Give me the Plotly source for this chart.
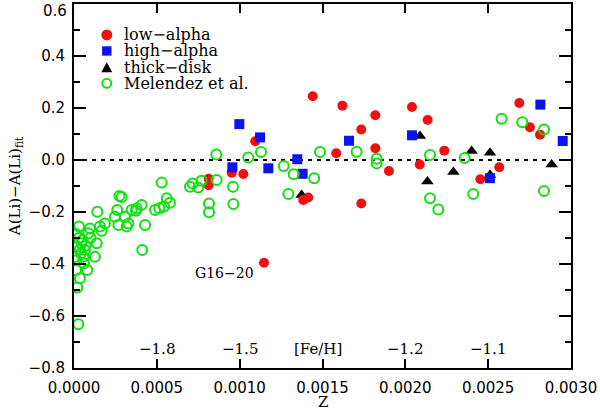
import plotly.graph_objects as go

# low-alpha stars (red filled circles)
red_z = [0.00162, 0.001819, 0.001734, 0.001819, 0.001583, 0.001901, 0.001734,
         0.00204, 0.002135, 0.002087, 0.002235, 0.002453, 0.002567, 0.002688,
         0.002752, 0.002813, 0.001441, 0.001094, 0.000813, 0.000813, 0.000952,
         0.001022, 0.001384, 0.001414, 0.001147]
red_v = [0.209, 0.172, 0.117, 0.045, 0.026, -0.042, -0.167,
         0.204, 0.154, -0.017, 0.036, -0.074, -0.028, 0.219,
         0.126, 0.097, 0.245, 0.072, -0.072, -0.097, -0.049,
         -0.054, -0.154, -0.144, -0.395]

# high-alpha stars (blue squares)
blue_z = [0.00166, 0.00204, 0.002511, 0.002815, 0.00295, 0.000998, 0.001123,
          0.000956, 0.001173, 0.001348, 0.00138]
blue_v = [0.074, 0.095, -0.07, 0.213, 0.073, 0.138, 0.087,
          -0.028, -0.032, 0.003, -0.053]

# thick-disk stars (black triangles)
black_z = [0.002088, 0.002133, 0.00229, 0.0024, 0.002511, 0.002511, 0.002883, 0.001374]
black_v = [0.092, -0.083, -0.046, 0.035, 0.028, -0.058, -0.017, -0.135]

# Melendez et al. (green open circles)
green_z = [0.0, 0.000012, 0.000036, 0.00002, 0.000026, 0.00008, 0.000126,
           0.000137, 0.000086, 0.000097, 0.00003, 0.000012, 0.000052, 0.00002,
           0.000066, 0.000042, 0.000016, 0.00006, 0.000141, 0.000157, 0.000167,
           0.000187, 0.000247, 0.000268, 0.000318, 0.000328, 0.000308, 0.000348,
           0.000378, 0.000408, 0.000429, 0.000412, 0.000489, 0.000515, 0.000543,
           0.000579, 0.000815, 0.000815, 0.000962, 0.000274, 0.000288, 0.000261,
           0.000374, 0.000529, 0.00056, 0.0007, 0.000716, 0.00075, 0.00077,
           0.000861, 0.000859, 0.00096, 0.001052, 0.001129, 0.001266, 0.001326,
           0.001294, 0.00145, 0.001485, 0.001706, 0.001827, 0.001827, 0.002149,
           0.002149, 0.002199, 0.002358, 0.00241, 0.002581, 0.002706, 0.002837,
           0.002837, 0.00003, 0.000045, 0.00007, 0.0001, 0.000035, 0.000057]
green_v = [-0.374, -0.423, -0.455, -0.49, -0.632, -0.423, -0.372,
           -0.32, -0.282, -0.263, -0.256, -0.285, -0.308, -0.333,
           -0.346, -0.359, -0.385, -0.397, -0.199, -0.256, -0.272,
           -0.244, -0.218, -0.25, -0.256, -0.244, -0.218, -0.192,
           -0.186, -0.173, -0.25, -0.346, -0.192, -0.186, -0.179,
           -0.164, -0.167, -0.201, -0.169, -0.138, -0.142, -0.192,
           -0.195, -0.087, -0.147, -0.103, -0.09, -0.106, -0.08,
           -0.077, 0.021, -0.103, 0.01, 0.031, -0.023, -0.055,
           -0.131, -0.07, 0.031, 0.032, 0.005, -0.013, 0.019,
           -0.147, -0.19, 0.008, -0.131, 0.159, 0.145, 0.117,
           -0.119, -0.3, -0.32, -0.33, -0.3, -0.345, -0.372]

# zero line of the fit
fit_z = [0.0, 0.00285]
fit_v = [0.0, 0.0]

# [Fe/H] scale written inside the bottom of the frame
feh_z = [0.0005, 0.0010, 0.00147, 0.0020, 0.0025]
feh_text = ["\u22121.8", "\u22121.5", "[Fe/H]", "\u22121.2", "\u22121.1"]
feh_y = -0.727

x_ticks = [0, 0.0005, 0.001, 0.0015, 0.002, 0.0025, 0.003]
y_ticks = [-0.8, -0.6, -0.4, -0.2, 0.0, 0.2, 0.4, 0.6]
# the top label is written separately, nudged down inside the page like the original
y_labels = ["\u22120.8", "\u22120.6", "\u22120.4", "\u22120.2", "0.0", "0.2", "0.4", ""]
y_top_label = "0.6"

legend_names = ["low\u2212alpha", "high\u2212alpha", "thick\u2212disk", "Melendez et al."]

RED = "#f01010"
BLUE = "#0a14f0"
GREEN = "#10e010"
serif = "DejaVu Serif"
sans = "DejaVu Sans"

fig = go.Figure()

fig.add_trace(go.Scatter(x=fit_z, y=fit_v, mode="lines",
                         line=dict(color="black", width=2, dash="4px,5px")))
# triangles first so the circles sit on top where they overlap
fig.add_trace(go.Scatter(x=black_z, y=black_v, mode="markers", name=legend_names[2],
                         marker=dict(symbol="triangle-up", size=11, color="black")))
fig.add_trace(go.Scatter(x=red_z, y=red_v, mode="markers", name=legend_names[0],
                         marker=dict(symbol="circle", size=10, color=RED)))
fig.add_trace(go.Scatter(x=blue_z, y=blue_v, mode="markers", name=legend_names[1],
                         marker=dict(symbol="square", size=10, color=BLUE)))
fig.add_trace(go.Scatter(x=green_z, y=green_v, mode="markers", name=legend_names[3],
                         marker=dict(symbol="circle-open", size=10, color=GREEN,
                                     line=dict(width=2, color=GREEN))))

# hand drawn legend (IDL style, tight rows)
key_x = 0.066
text_x = 0.096
rows_y = [0.915, 0.871, 0.825, 0.782]
common = dict(xref="paper", yref="paper", xsizemode="pixel", ysizemode="pixel",
              xanchor=key_x)
fig.add_shape(type="circle", yanchor=rows_y[0], x0=-5.5, x1=5.5, y0=-5.5, y1=5.5,
              fillcolor=RED, line=dict(width=0), **common)
fig.add_shape(type="rect", yanchor=rows_y[1], x0=-4.7, x1=4.7, y0=-4.7, y1=4.7,
              fillcolor=BLUE, line=dict(width=0), **common)
fig.add_shape(type="path", yanchor=rows_y[2], path="M -5.5 -4.5 L 5.5 -4.5 L 0 5.5 Z",
              fillcolor="black", line=dict(width=0), **common)
fig.add_shape(type="circle", yanchor=rows_y[3], x0=-4.5, x1=4.5, y0=-4.5, y1=4.5,
              fillcolor="rgba(0,0,0,0)", line=dict(width=2, color=GREEN), **common)
for name, ry in zip(legend_names, rows_y):
    fig.add_annotation(x=text_x, y=ry, xref="paper", yref="paper", text=name,
                       showarrow=False, xanchor="left", yanchor="middle",
                       font=dict(family=serif, size=16, color="black"))

for z, t in zip(feh_z, feh_text):
    fig.add_annotation(x=z, y=feh_y, text=t, showarrow=False,
                       font=dict(family=serif, size=15, color="black"))

fig.add_annotation(x=0.00091, y=-0.433, text="G16\u221220", showarrow=False,
                   font=dict(family=serif, size=14, color="black"))

fig.add_annotation(x=0, xref="paper", y=0.6, text=y_top_label, showarrow=False,
                   xanchor="right", yanchor="middle", xshift=-5, yshift=-7,
                   font=dict(family=sans, size=15, color="black"))

# x-axis title placed at the very bottom of the page
fig.add_annotation(x=0.5, xref="paper", y=-0.1236, yref="paper", text="Z",
                   showarrow=False, xanchor="center", yanchor="bottom",
                   font=dict(family=serif, size=15, color="black"))

fig.update_layout(
    width=600, height=413,
    margin=dict(l=74, r=29, t=4, b=45),
    paper_bgcolor="white", plot_bgcolor="white",
    showlegend=False,
)

fig.update_xaxes(
    range=[0, 0.003], tickvals=x_ticks, tickformat=".4f", automargin=False,
    ticks="inside", ticklen=9, tickwidth=1.5, tickcolor="black",
    showline=True, linewidth=2, linecolor="black", mirror="ticks",
    showgrid=False, zeroline=False, ticklabelstandoff=5, ticklabeloverflow="allow",
    tickfont=dict(family=sans, size=15, color="black"),
)
fig.update_yaxes(
    range=[-0.8, 0.6], tickvals=y_ticks, ticktext=y_labels, automargin=False,
    ticks="inside", ticklen=12, tickwidth=1.5, tickcolor="black",
    minor=dict(ticks="inside", ticklen=6, dtick=0.1, tickcolor="black", tickwidth=1.5),
    showline=True, linewidth=2, linecolor="black", mirror="ticks",
    showgrid=False, zeroline=False, ticklabelstandoff=4, ticklabeloverflow="allow",
    tickfont=dict(family=sans, size=15, color="black"),
    title=dict(text="A(Li)\u2212A(Li)<sub>fit</sub>",
               font=dict(family=serif, size=15, color="black"), standoff=4),
)

# drop the default page margin so the 600x413 figure fills the window exactly
fig.write_html("out.html", config={"displayModeBar": False},
               post_script="document.body.style.margin='0';")
